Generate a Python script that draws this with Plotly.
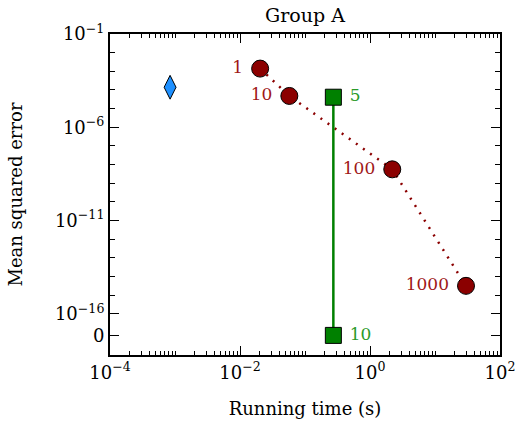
import plotly.graph_objects as go

# ---- data ----
baseline_time = [8.4e-4]
baseline_err = [1.4e-4]

iter_labels = ["1", "10", "100", "1000"]
iter_time = [0.0204, 0.0574, 2.2, 30.0]
iter_err = [1.4e-3, 4.8e-5, 5.6e-9, 3.2e-15]

sq_labels = ["5", "10"]
sq_time = [0.273, 0.273]
sq_err = [4.1e-5, 0.0]

# symlog-like placement of exact zero below 1e-16
ZERO_POS = 10 ** -17.15


def ymap(v):
    return ZERO_POS if v == 0 else v


FONT = "'DejaVu Serif', serif"
RED = "#8b0000"
RED_TXT = "#a01818"
GREEN = "#008000"
GREEN_TXT = "#2a9a2a"

fig = go.Figure()

fig.add_trace(go.Scatter(
    x=iter_time, y=[ymap(v) for v in iter_err], mode="lines+markers+text",
    line=dict(color=RED, width=2.5, dash="2px,6.7px"),
    marker=dict(symbol="circle", size=17, color=RED, line=dict(color="black", width=1)),
    text=[s + " " for s in iter_labels],
    textposition="middle left",
    textfont=dict(family=FONT, size=17, color=RED_TXT),
    showlegend=False, cliponaxis=False,
))

fig.add_trace(go.Scatter(
    x=sq_time, y=[ymap(v) for v in sq_err], mode="lines+markers+text",
    line=dict(color=GREEN, width=2.5),
    marker=dict(symbol="square", size=16, color=GREEN, line=dict(color="black", width=1)),
    text=[" " + s for s in sq_labels],
    textposition="middle right",
    textfont=dict(family=FONT, size=17, color=GREEN_TXT),
    showlegend=False, cliponaxis=False,
))

fig.add_trace(go.Scatter(
    x=baseline_time, y=baseline_err, mode="markers",
    marker=dict(symbol="diamond-tall", size=17, color="#1e90ff", line=dict(color="black", width=1)),
    showlegend=False, cliponaxis=False,
))

# ticks
x_major = [10.0 ** e for e in (-4, -2, 0, 2)]
x_major_txt = ["10<sup>−4</sup>", "10<sup>−2</sup>", "10<sup>0</sup>", "10<sup>2</sup>"]
x_minor = [k * 10.0 ** e for e in range(-4, 2) for k in range(1, 10) if not (k == 1 and e % 2 == 0)]

y_major = [1e-1, 1e-6, 1e-11, 1e-16, ZERO_POS]
y_major_txt = ["10<sup>−1</sup>", "10<sup>−6</sup>", "10<sup>−11</sup>", "10<sup>−16</sup>", "0"]
y_minor = [10.0 ** e for e in range(-16, -1) if (e + 1) % 5 != 0]

fig.update_layout(
    width=516, height=425,
    margin=dict(l=110, r=16, t=34, b=70, autoexpand=False),
    paper_bgcolor="white", plot_bgcolor="white",
    font=dict(family=FONT, size=17, color="black"),
    title=dict(text="Group A", x=0.5, xref="paper", xanchor="center", y=0.964, yanchor="middle",
               font=dict(family=FONT, size=19)),
)

fig.update_xaxes(
    type="log", range=[-4, 2], automargin=False,
    tickmode="array", tickvals=x_major, ticktext=x_major_txt,
    ticks="inside", ticklen=9, tickwidth=1, tickcolor="black",
    minor=dict(tickmode="array", tickvals=x_minor, ticks="inside", ticklen=4, tickwidth=1, tickcolor="black"),
    showline=True, linecolor="black", linewidth=2, mirror="allticks",
    showgrid=False, zeroline=False,
    title=dict(text="Running time (s)", font=dict(family=FONT, size=18), standoff=21),
    tickfont=dict(family=FONT, size=18),
)
fig.update_yaxes(
    type="log", range=[-18.2, -1], automargin=False,
    tickmode="array", tickvals=y_major, ticktext=y_major_txt,
    ticks="inside", ticklen=9, tickwidth=1, tickcolor="black",
    minor=dict(tickmode="array", tickvals=y_minor, ticks="inside", ticklen=5, tickwidth=1, tickcolor="black"),
    showline=True, linecolor="black", linewidth=2, mirror="allticks",
    showgrid=False, zeroline=False,
    title=dict(text="Mean squared error", font=dict(family=FONT, size=18), standoff=28),
    tickfont=dict(family=FONT, size=18),
)

fig.write_html("out.html")
